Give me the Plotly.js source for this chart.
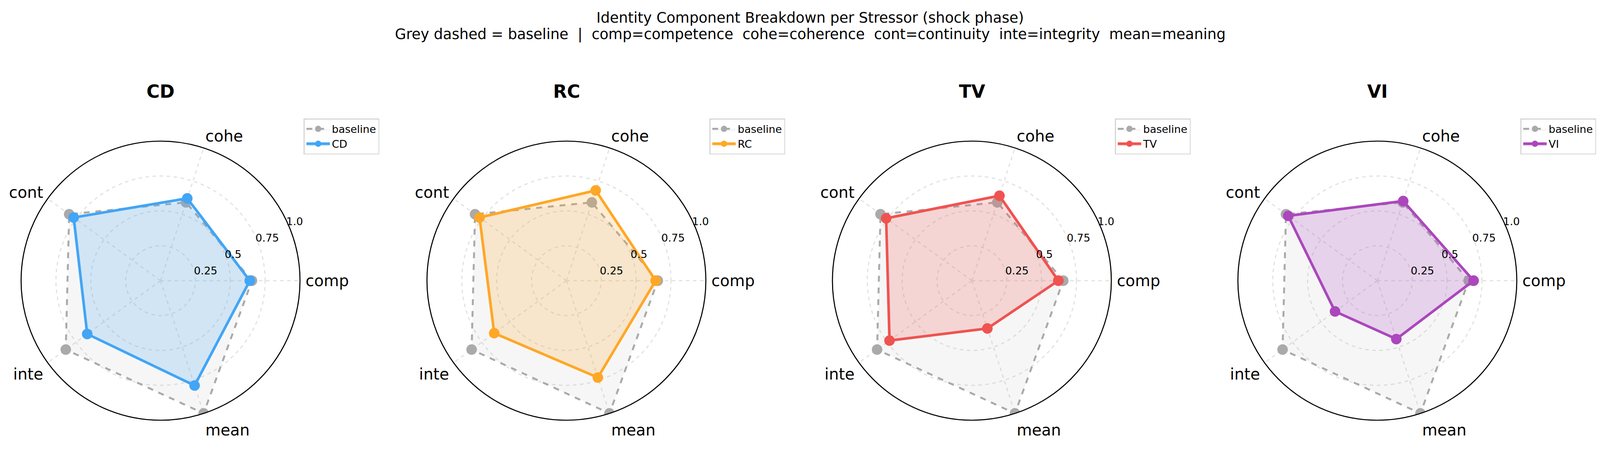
<!DOCTYPE html>
<html>
<head>
<meta charset="utf-8">
<script src="https://cdn.plot.ly/plotly-3.0.1.min.js"></script>
<style>html,body{margin:0;padding:0;background:#fff;}#chart{width:4148px;height:1164px;}</style>
</head>
<body>
<div id="chart"></div>
<script>
const categories = ['comp', 'cohe', 'cont', 'inte', 'mean'];
const stressors = ['CD', 'RC', 'TV', 'VI'];
const baselineValues = [0.655, 0.59, 0.81, 0.84, 1.0];
const cdValues = [0.64, 0.62, 0.77, 0.65, 0.79];
const rcValues = [0.64, 0.68, 0.77, 0.64, 0.73];
const tvValues = [0.62, 0.64, 0.76, 0.73, 0.36];
const viValues = [0.69, 0.60, 0.79, 0.375, 0.44];
const radialTickVals = [0.25, 0.5, 0.75, 1.0];
const radialTickText = ['0.25', '0.5', '0.75', '1.0'];
const titleLine1 = 'Identity Component Breakdown per Stressor (shock phase)';
const titleLine2 = 'Grey dashed = baseline  |  comp=competence  cohe=coherence  cont=continuity  inte=integrity  mean=meaning';

const seriesValues = [cdValues, rcValues, tvValues, viValues];
const colors = ['#42A5F5', '#FFA726', '#EF5350', '#AB47BC'];
const fills = ['rgba(66,165,245,0.2)', 'rgba(255,167,38,0.2)', 'rgba(239,83,80,0.2)', 'rgba(171,71,188,0.2)'];

const W = 4148, H = 1164;
const centersX = [411, 1450, 2488, 3526];
const cy = 718, R = 357;
const FONT = 'DejaVu Sans, sans-serif';

function closeLoop(a) { return a.concat([a[0]]); }

const traces = [];
const layout = {
  width: W, height: H,
  margin: {l: 0, r: 0, t: 0, b: 0},
  paper_bgcolor: '#fff',
  font: {family: FONT, color: '#000'},
  showlegend: true,
  title: {text: titleLine1, x: 0.5, xanchor: 'center', xref: 'paper', y: 1 - 45 / H, yanchor: 'middle', font: {size: 37, family: FONT, color: '#000'}},
  annotations: [{text: titleLine2, x: 0.5, xref: 'paper', y: 1 - 88 / H, yref: 'paper', xanchor: 'center', yanchor: 'middle', showarrow: false, font: {size: 37, family: FONT, color: '#000'}}]
};

stressors.forEach((name, i) => {
  const pid = i === 0 ? 'polar' : 'polar' + (i + 1);
  const lid = i === 0 ? 'legend' : 'legend' + (i + 1);
  const cx = centersX[i];
  traces.push({
    type: 'scatterpolar', subplot: pid, legend: lid, name: 'baseline',
    r: closeLoop(baselineValues), theta: closeLoop(categories),
    mode: 'lines+markers', fill: 'toself', fillcolor: 'rgba(170,170,170,0.1)',
    line: {color: '#aaaaaa', width: 5, dash: 'dash'},
    marker: {color: '#aaaaaa', size: 27},
    cliponaxis: true
  });
  traces.push({
    type: 'scatterpolar', subplot: pid, legend: lid, name: name,
    r: closeLoop(seriesValues[i]), theta: closeLoop(categories),
    mode: 'lines+markers', fill: 'toself', fillcolor: fills[i],
    line: {color: colors[i], width: 6.7},
    marker: {color: colors[i], size: 27},
    cliponaxis: true
  });
  layout[pid] = {
    domain: {x: [(cx - R) / W, (cx + R) / W], y: [(H - cy - R) / H, (H - cy + R) / H]},
    bgcolor: '#fff',
    radialaxis: {
      range: [0, 1], tickvals: radialTickVals, ticktext: radialTickText,
      angle: 28, side: 'clockwise', showline: false, ticks: '',
      tickfont: {size: 27, family: FONT, color: '#000'},
      gridcolor: '#e2e2e2', gridwidth: 2.7, griddash: 'dash', tickangle: 28
    },
    angularaxis: {
      type: 'category', categoryarray: categories, direction: 'counterclockwise', rotation: 0,
      showline: true, linecolor: '#000', linewidth: 2.7,
      ticks: 'outside', ticklen: 5, tickcolor: 'rgba(0,0,0,0)',
      tickfont: {size: 40, family: FONT, color: '#000'},
      gridcolor: '#e2e2e2', gridwidth: 2.7, griddash: 'dash'
    }
  };
  layout[lid] = {
    x: (cx + 366) / W, y: 1 - 303 / H, xanchor: 'left', yanchor: 'top',
    bgcolor: '#fff', bordercolor: '#d6d6d6', borderwidth: 2.5,
    font: {size: 27, family: FONT, color: '#000'},
    itemwidth: 60
  };
  layout.annotations.push({
    text: '<b>' + name + '</b>', x: cx / W, xref: 'paper', y: 1 - 234 / H, yref: 'paper',
    xanchor: 'center', yanchor: 'middle', showarrow: false,
    font: {size: 46, family: FONT, color: '#000'}
  });
});

Plotly.newPlot('chart', traces, layout, {displayModeBar: false, responsive: false});
</script>
</body>
</html>
